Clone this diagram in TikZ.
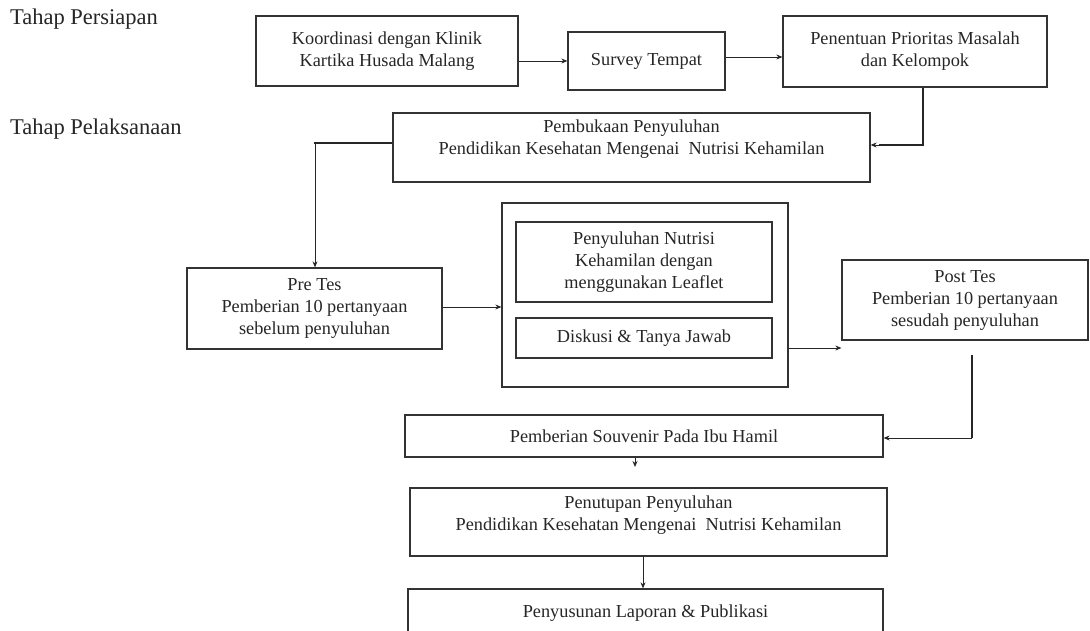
\documentclass[tikz,border=0pt]{standalone}
\usepackage{fontspec}
\setmainfont{Liberation Serif}
\usetikzlibrary{arrows.meta}
\begin{document}
\begin{tikzpicture}[x=1pt,y=-1pt,
  box/.style={draw=black!80, line width=1.3pt, align=center, inner sep=0pt,
    text=black!85, font=\fontsize{18.3}{22}\selectfont},
  lbl/.style={anchor=west, inner sep=0pt, text=black!85, font=\fontsize{22.5}{24}\selectfont},
  arr/.style={draw=black!85, line width=0.8pt, -{Stealth[length=6pt,width=5pt]}},
  heavy/.style={draw=black!85, line width=2.2pt},
  up/.style={text depth=#1}]
\useasboundingbox (0,0) rectangle (1090,631);
\clip (0,0) rectangle (1090,631);
\fill[white] (0,0) rectangle (1090,631);

\node[lbl] (tp) at (10,19) {Tahap Persiapan};
\node[lbl] (tl) at (10,129) {Tahap Pelaksanaan};

\node[box, minimum width=262pt, minimum height=70pt] (k) at (387,51)
  {Koordinasi dengan Klinik\\Kartika Husada Malang};
\node[box, minimum width=157pt, minimum height=58pt] (s) at (646.5,61) {Survey Tempat};
\node[box, minimum width=264pt, minimum height=71pt] (p) at (915,51.5)
  {Penentuan Prioritas Masalah\\dan Kelompok};
\node[box, up=21pt, minimum width=477pt, minimum height=69pt] (b) at (631.5,147.5)
  {Pembukaan Penyuluhan\\Pendidikan Kesehatan Mengenai\ \ Nutrisi Kehamilan};
\node[box, minimum width=255pt, minimum height=81pt] (pre) at (314.5,308.5)
  {Pre Tes\\Pemberian 10 pertanyaan\\sebelum penyuluhan};
\node[box, minimum width=286pt, minimum height=184pt] (o) at (645,295) {};
\node[box, minimum width=256pt, minimum height=80pt] (i1) at (644,262)
  {Penyuluhan Nutrisi\\Kehamilan dengan\\menggunakan Leaflet};
\node[box, minimum width=256pt, minimum height=40pt] (i2) at (644,338) {Diskusi \& Tanya Jawab};
\node[box, minimum width=246pt, minimum height=80pt] (post) at (965,300)
  {Post Tes\\Pemberian 10 pertanyaan\\sesudah penyuluhan};
\node[box, minimum width=478pt, minimum height=42pt] (sv) at (644,436)
  {Pemberian Souvenir Pada Ibu Hamil};
\node[box, up=18pt, minimum width=477pt, minimum height=68pt] (pt) at (648.5,522)
  {Penutupan Penyuluhan\\Pendidikan Kesehatan Mengenai\ \ Nutrisi Kehamilan};
\node[box, minimum width=475pt, minimum height=48pt] (ly) at (645.5,613)
  {Penyusunan Laporan \& Publikasi};

% connectors
\draw[arr] (k.east |- s.west) -- (s.west);
\draw[arr] ([yshift=4pt]s.east) -- ([yshift=4pt]s.east -| p.west);
\coordinate (pb) at (923,145);
\draw[heavy] (p.south -| pb) -- (pb) -- ([xshift=8pt]pb -| b.east);
\draw[arr] ([xshift=9pt]pb -| b.east) -- (pb -| b.east);
\coordinate (bp) at (315,143);
\draw[heavy] (bp -| b.west) -- ([xshift=-1pt]bp);
\draw[arr] (bp) -- (bp |- pre.north);
\draw[arr] ([yshift=1.5pt]pre.east) -- ([yshift=1.5pt]pre.east -| o.west);
\draw[arr] (o.east |- 0,348) -- (post.west |- 0,348);
\coordinate (ps) at (972,438);
\draw[heavy] (972,355) -- (ps);
\draw[arr] (ps) -- (ps -| sv.east);
\coordinate (svd) at (635,467);
\draw[arr] (sv.south -| svd) -- (svd);
\draw[arr] (pt.south -| 643,0) -- (ly.north -| 643,0);
\end{tikzpicture}
\end{document}
